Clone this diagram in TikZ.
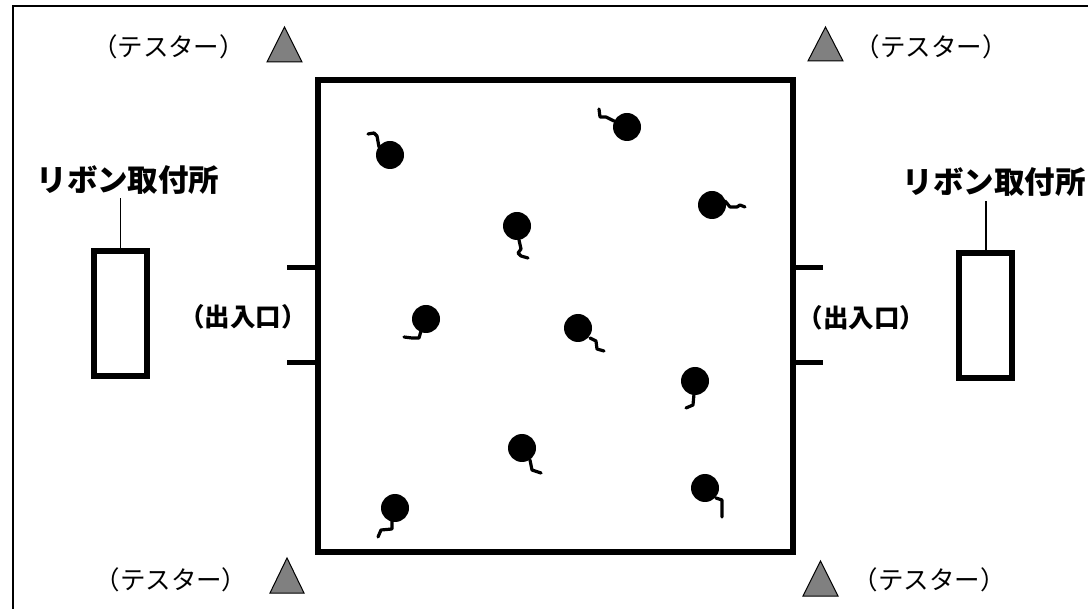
\documentclass[tikz,border=0pt]{standalone}
\usepackage{fontspec}
\newfontfamily\jp{Noto Sans CJK JP}
\begin{document}
\begin{tikzpicture}[x=1pt,y=-1pt,
  lbl/.style={font=\jp\fontsize{25.5}{25.5}\selectfont, inner sep=0pt},
  blbl/.style={font=\jp\bfseries\fontsize{30.5}{30.5}\selectfont, inner sep=0pt},
  elbl/.style={font=\jp\bfseries\fontsize{25.5}{25.5}\selectfont, inner sep=0pt},
  room/.style={draw, line width=6pt, minimum width=475pt, minimum height=472pt, inner sep=0pt},
  ribbon/.style={draw, line width=6pt, minimum width=53pt, minimum height=125pt, inner sep=0pt},
  tick/.style={line width=5pt},
  tester/.style={draw=black, line width=1pt, fill=black!50, line join=miter},
  conn/.style={line width=1.5pt},
  tail/.style={line width=3.2pt, line cap=round, line join=round},
  dot/.style={fill=black}]
\useasboundingbox (0,0) rectangle (1088,609);
\fill[white] (0,0) rectangle (1088,609);
% outer frame (cut at right and bottom)
\draw[line width=2pt] (13,620) -- (13,6) -- (1100,6);
% room
\node[room] (rm) at (555.5,316) {};
\draw[tick] (rm.west |- 0,268) -- ++(-28,0);
\draw[tick] (rm.west |- 0,363) -- ++(-28,0);
\draw[tick] (rm.east |- 0,268) -- ++(27,0);
\draw[tick] (rm.east |- 0,363) -- ++(27,0);
% labels
\node[elbl] (exL) at (243,317) {（出入口）};
\node[elbl] (exR) at (861.5,318) {（出入口）};
\node[lbl] (tTL) at (168.5,47) {（テスター）};
\node[lbl] (tTR) at (931,47) {（テスター）};
\node[lbl] (tBL) at (171,580) {（テスター）};
\node[lbl] (tBR) at (929,580) {（テスター）};
% testers
\draw[tester] (267,62) -- (284.5,27) -- (302,62) -- cycle;
\draw[tester] (808,61) -- (825.5,27) -- (843,61) -- cycle;
\draw[tester] (270,593) -- (287,558) -- (304,593) -- cycle;
\draw[tester] (803,596) -- (820.5,561) -- (838,596) -- cycle;
% ribbon stations
\node[ribbon] (rbL) at (120.5,313.5) {};
\node[ribbon] (rbR) at (985.75,315.5) {};
\node[blbl] (rlL) at (128,180) {リボン取付所};
\node[blbl] (rlR) at (994,182) {リボン取付所};
\draw[conn] (rbL.north) -- (rbL.north |- 0,198);
\draw[conn] (rbR.north) -- (rbR.north |- 0,201);
% creatures
\fill[dot] (390,155) circle (14pt);
\draw[tail] (379,147) -- (377,136) -- (374,133) -- (368,134);
\fill[dot] (627,127) circle (14pt);
\draw[tail] (614,121) -- (606,117) -- (600,117) -- (599,109);
\fill[dot] (517,226) circle (14pt);
\draw[tail] (519,240) -- (521,249) -- (518,253) -- (521,256) -- (528,258);
\fill[dot] (712,205) circle (14pt);
\draw[tail] (725,201) -- (730,207) -- (737,207) -- (740,205) -- (745,207);
\fill[dot] (426,319) circle (14pt);
\draw[tail] (421,331) -- (419,338) -- (412,338) -- (404,337);
\fill[dot] (578,328) circle (14pt);
\draw[tail] (590,338) -- (596,341) -- (597,349) -- (604,351);
\fill[dot] (695,381) circle (14pt);
\draw[tail] (694,394) -- (693,405) -- (686,408);
\fill[dot] (522,448) circle (14pt);
\draw[tail] (530,460) -- (532,470) -- (541,473);
\fill[dot] (395,508) circle (14pt);
\draw[tail] (392,521) -- (392,529) -- (381,530) -- (378,537);
\fill[dot] (705,488) circle (14pt);
\draw[tail] (716,498) -- (722,500) -- (722,517);
\end{tikzpicture}
\end{document}
